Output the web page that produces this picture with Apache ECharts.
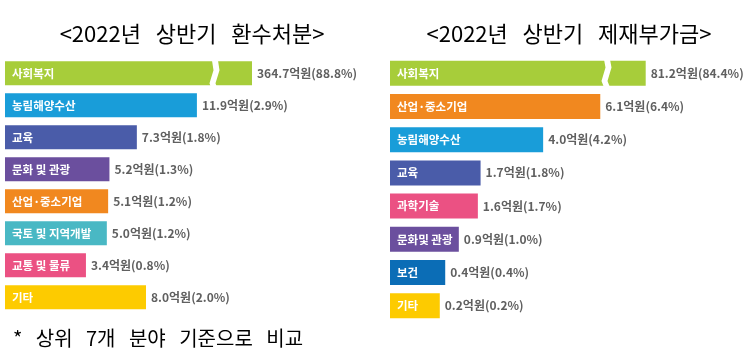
<!DOCTYPE html>
<html>
<head>
<meta charset="utf-8">
<script src="https://cdn.jsdelivr.net/npm/echarts@6/dist/echarts.min.js"></script>
<style>
html,body{margin:0;padding:0;background:#fff;}
#chart{width:750px;height:361px;}
</style>
</head>
<body>
<div id="chart"></div>
<script>
// ---- data ----
const leftTitle = '<2022년   상반기   환수처분>';
const leftCategories = ['사회복지', '농림해양수산', '교육', '문화 및 관광', '산업·중소기업', '국토 및 지역개발', '교통 및 물류', '기타'];
const leftValues = [364.7, 11.9, 7.3, 5.2, 5.1, 5.0, 3.4, 8.0];
const leftShares = [88.8, 2.9, 1.8, 1.3, 1.2, 1.2, 0.8, 2.0];

const rightTitle = '<2022년   상반기   제재부가금>';
const rightCategories = ['사회복지', '산업·중소기업', '농림해양수산', '교육', '과학기술', '문화및 관광', '보건', '기타'];
const rightValues = [81.2, 6.1, 4.0, 1.7, 1.6, 0.9, 0.4, 0.2];
const rightShares = [84.4, 6.4, 4.2, 1.8, 1.7, 1.0, 0.4, 0.2];

const footnote = '*   상위   7개   분야   기준으로   비교';
const unit = '억원';

// ---- styles ----
const FONT = "'Noto Sans CJK KR', 'Noto Sans', sans-serif";
const colorOf = {
  '사회복지': '#a7cd3a',
  '농림해양수산': '#199dd9',
  '교육': '#4a5ca9',
  '문화 및 관광': '#6b4f9e',
  '문화및 관광': '#6b4f9e',
  '산업·중소기업': '#f1881f',
  '국토 및 지역개발': '#49b8c4',
  '교통 및 물류': '#eb5183',
  '과학기술': '#eb5183',
  '보건': '#0b6db6',
  '기타': '#fdcb00'
};

function makeSeries(idx, cats, vals, shares, barW) {
  return [
    {
      type: 'bar', xAxisIndex: idx, yAxisIndex: idx, barWidth: barW, z: 2,
      data: vals.map((v, i) => ({ value: v, name: cats[i], itemStyle: { color: colorOf[cats[i]] } })),
      label: {
        show: true, position: 'insideLeft', distance: 7,
        formatter: p => p.name, color: '#fff', fontSize: 11.5, fontWeight: 'bold', fontFamily: FONT
      },
      silent: true
    },
    {
      type: 'bar', xAxisIndex: idx, yAxisIndex: idx, barWidth: barW, barGap: '-100%', z: 200,
      data: vals,
      itemStyle: { color: 'rgba(0,0,0,0)' },
      label: {
        show: true, position: 'right', distance: 5,
        formatter: p => vals[p.dataIndex].toFixed(1) + unit + '(' + shares[p.dataIndex].toFixed(1) + '%)',
        color: '#606060', fontSize: 12, fontWeight: 'bold', fontFamily: FONT
      },
      silent: true
    }
  ];
}

function valueAxis(idx, min, max, brk) {
  return {
    type: 'value', gridIndex: idx, min: min, max: max, startValue: min,
    axisLine: { show: false }, axisTick: { show: false }, axisLabel: { show: false },
    splitLine: { show: false },
    breaks: [brk],
    breakArea: {
      show: true,
      itemStyle: { color: '#fff', borderColor: '#fff', borderWidth: 0, opacity: 1 },
      zigzagAmplitude: 2, zigzagMinSpan: 10, zigzagMaxSpan: 14, zigzagZ: 100
    }
  };
}

function catAxis(idx, cats) {
  return {
    type: 'category', gridIndex: idx, data: cats, inverse: true,
    axisLine: { show: false }, axisTick: { show: false }, axisLabel: { show: false }
  };
}

const chart = echarts.init(document.getElementById('chart'));
chart.setOption({
  animation: false,
  backgroundColor: '#fff',
  title: [
    { text: leftTitle, left: 187, top: 18, textAlign: 'center',
      textStyle: { fontSize: 22, fontWeight: 'normal', color: '#000', fontFamily: FONT } },
    { text: rightTitle, left: 564, top: 18, textAlign: 'center',
      textStyle: { fontSize: 22, fontWeight: 'normal', color: '#000', fontFamily: FONT } },
    { text: footnote, left: 8, top: 323,
      textStyle: { fontSize: 20, fontWeight: 'normal', color: '#000', fontFamily: FONT } }
  ],
  grid: [
    { left: 5, top: 57.3, width: 247, height: 256 },
    { left: 390, top: 56.7, width: 255.7, height: 265.6 }
  ],
  xAxis: [
    valueAxis(0, -2.8, 364.7, { start: 13, end: 362.04, gap: 0.46 }),
    valueAxis(1, -1.63, 81.2, { start: 6.2, end: 79.85, gap: 0.22 })
  ],
  yAxis: [catAxis(0, leftCategories), catAxis(1, rightCategories)],
  series: [].concat(
    makeSeries(0, leftCategories, leftValues, leftShares, 24),
    makeSeries(1, rightCategories, rightValues, rightShares, 25)
  )
});
</script>
</body>
</html>
